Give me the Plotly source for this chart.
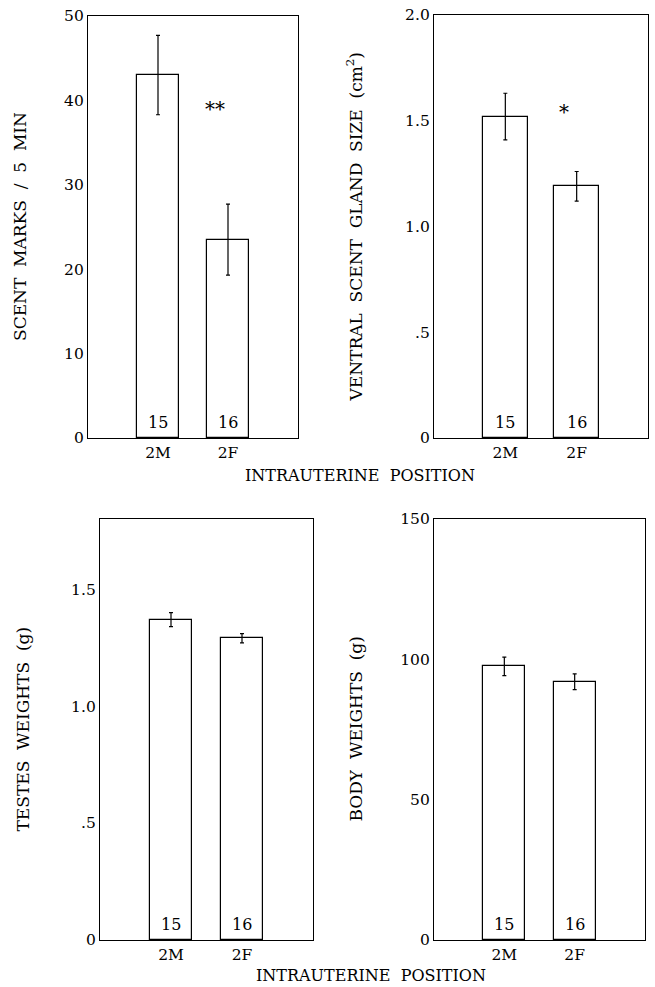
import plotly.graph_objects as go

categories = ["2M", "2F"]
n_labels = ["15", "16"]

scent_marks = [43.0, 23.5]
scent_marks_err = [4.7, 4.2]

gland_size = [1.52, 1.19]
gland_size_err = [0.11, 0.07]

testes = [1.37, 1.29]
testes_err = [0.03, 0.02]

body = [97.5, 92.0]
body_err = [3.3, 2.8]

W, H = 655, 987
FONT = "DejaVu Serif"

def px_x(a, b):
    return [a / W, b / W]

def px_y(top, bottom):
    return [1 - bottom / H, 1 - top / H]

def fx(p):
    return p / W

def fy(p):
    return 1 - p / H

panels = [
    dict(vals=scent_marks, errs=scent_marks_err, x=px_x(88, 298), y=px_y(16, 438),
         yr=[0, 50], tv=[0, 10, 20, 30, 40, 50], tt=["0", "10", "20", "30", "40", "50"],
         title="SCENT  MARKS  /  5  MIN", tx=20, bw=0.6, star="**", stary=39),
    dict(vals=gland_size, errs=gland_size_err, x=px_x(434, 648), y=px_y(15, 438),
         yr=[0, 2.0], tv=[0, 0.5, 1.0, 1.5, 2.0], tt=["0", ".5", "1.0", "1.5", "2.0"],
         title="VENTRAL  SCENT  GLAND  SIZE  (cm<sup>2</sup>)", tx=354, bw=0.63, star="*", stary=1.54),
    dict(vals=testes, errs=testes_err, x=px_x(100, 313), y=px_y(519, 940),
         yr=[0, 1.8], tv=[0, 0.5, 1.0, 1.5], tt=["0", ".5", "1.0", "1.5"],
         title="TESTES  WEIGHTS  (g)", tx=22, bw=0.6, star=None),
    dict(vals=body, errs=body_err, x=px_x(434, 645), y=px_y(519, 940),
         yr=[0, 150], tv=[0, 50, 100, 150], tt=["0", "50", "100", "150"],
         title="BODY  WEIGHTS  (g)", tx=355, bw=0.6, star=None),
]

fig = go.Figure()
annotations = []
layout = {}
for i, p in enumerate(panels):
    k = "" if i == 0 else str(i + 1)
    fig.add_trace(go.Bar(
        x=[0, 1], y=p["vals"], width=p["bw"],
        marker=dict(color="white", line=dict(color="black", width=1.2)),
        error_y=dict(type="data", array=p["errs"], color="black", thickness=1.2, width=2),
        xaxis="x" + k, yaxis="y" + k, showlegend=False, hoverinfo="skip",
    ))
    layout["xaxis" + k] = dict(
        domain=p["x"], anchor="y" + k, range=[-1, 2], tickvals=[0, 1], ticktext=categories,
        showline=True, mirror=True, linecolor="black", linewidth=1.3, showgrid=False,
        zeroline=False, ticks="", automargin=False, ticklabeloverflow="allow",
        tickfont=dict(family=FONT, size=15.5, color="black"),
    )
    layout["yaxis" + k] = dict(
        domain=p["y"], anchor="x" + k, range=p["yr"], tickvals=p["tv"], ticktext=p["tt"],
        showline=True, mirror=True, linecolor="black", linewidth=1.3, showgrid=False,
        zeroline=False, ticks="", automargin=False, ticklabeloverflow="allow",
        tickfont=dict(family=FONT, size=15.5, color="black"),
    )
    for j, n in enumerate(n_labels):
        annotations.append(dict(x=j, y=0, xref="x" + k, yref="y" + k, text=n, showarrow=False,
                                yanchor="bottom", yshift=4,
                                font=dict(family=FONT, size=16, color="black")))
    if p["star"]:
        annotations.append(dict(x=0.82, y=p["stary"], xref="x" + k, yref="y" + k, text=p["star"],
                                showarrow=False, font=dict(family=FONT, size=20, color="black")))
    ymid = (p["y"][0] + p["y"][1]) / 2
    annotations.append(dict(x=fx(p["tx"]), y=ymid, xref="paper", yref="paper", text=p["title"],
                            textangle=-90, showarrow=False, xanchor="center", yanchor="middle",
                            font=dict(family=FONT, size=17, color="black")))

annotations.append(dict(x=fx(360), y=fy(475), xref="paper", yref="paper",
                        text="INTRAUTERINE  POSITION", showarrow=False,
                        font=dict(family=FONT, size=16, color="black")))
annotations.append(dict(x=fx(371), y=0, xref="paper", yref="paper",
                        text="INTRAUTERINE  POSITION", showarrow=False, yanchor="bottom",
                        font=dict(family=FONT, size=16, color="black")))

fig.update_layout(
    width=W, height=H, margin=dict(l=0, r=0, t=0, b=0),
    paper_bgcolor="white", plot_bgcolor="white", hovermode=False,
    annotations=annotations, bargap=0, **layout,
)

fig.write_html(
    "out.html",
    config={"displayModeBar": False},
    post_script="document.body.style.margin='0';document.body.style.padding='0';",
)
